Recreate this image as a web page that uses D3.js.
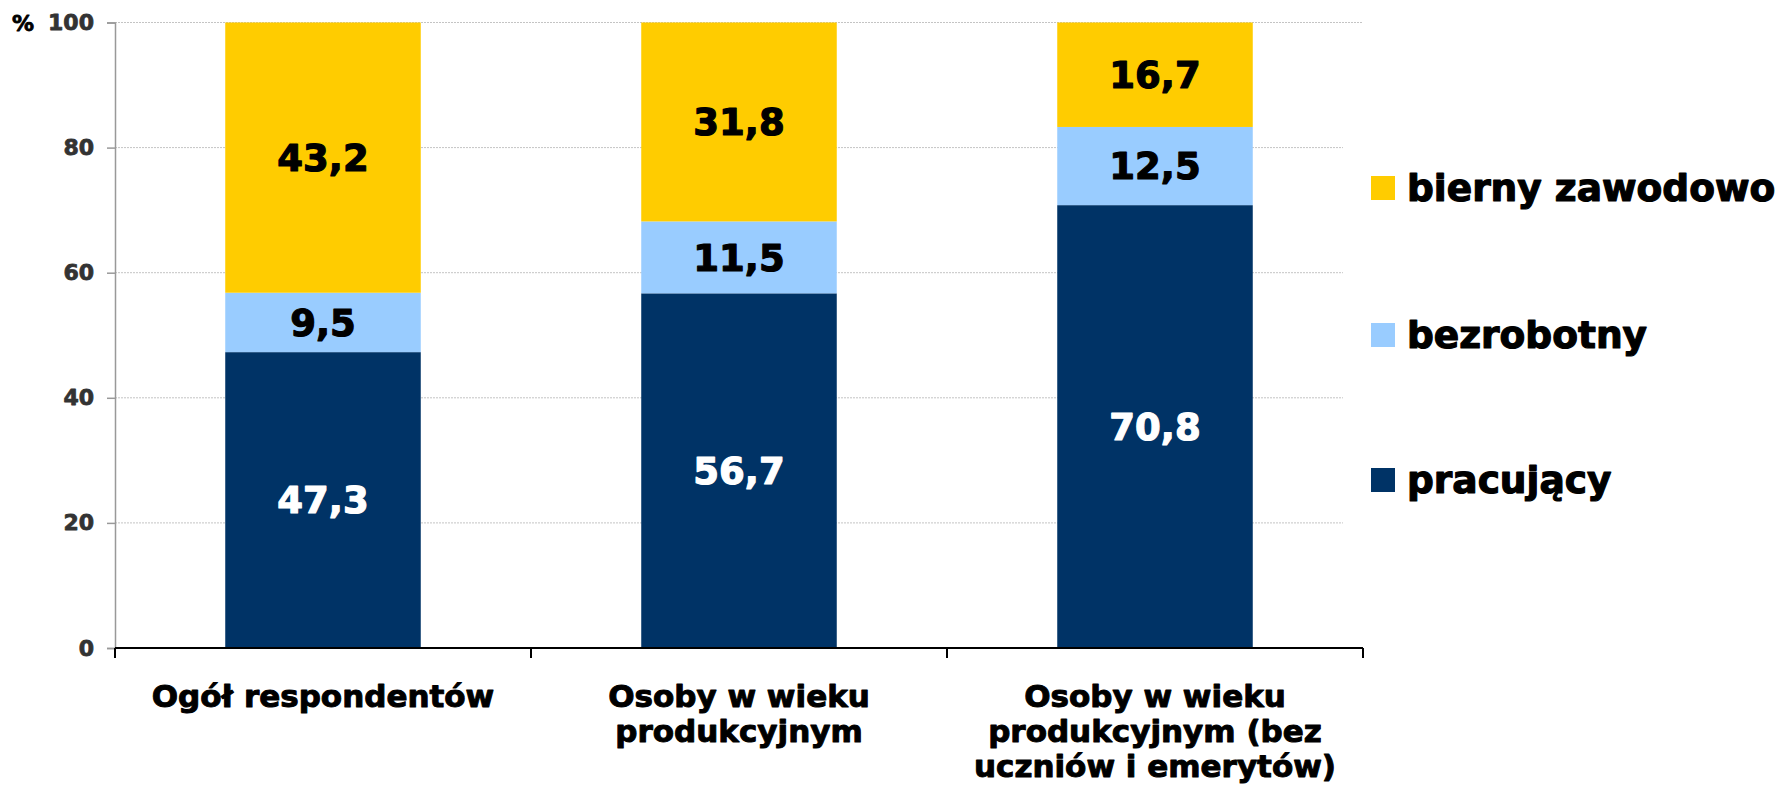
<!DOCTYPE html>
<html>
<head>
<meta charset="utf-8">
<script src="https://cdn.jsdelivr.net/npm/d3@7/dist/d3.min.js"></script>
<style>
  body { margin: 0; background: #fff; }
  svg { display: block; font-family: "DejaVu Sans", Verdana, sans-serif; font-weight: bold; }
</style>
</head>
<body>
<svg id="chart" width="1785" height="785"></svg>
<script>
/*
  Status na rynku pracy - stacked bars, 100%
*/
const categories = ['Ogół respondentów', 'Osoby w wieku produkcyjnym', 'Osoby w wieku produkcyjnym (bez uczniów i emerytów)'];
const categoryLines = [
  ['Ogół respondentów'],
  ['Osoby w wieku', 'produkcyjnym'],
  ['Osoby w wieku', 'produkcyjnym (bez', 'uczniów i emerytów)']
];
const seriesNames = ['pracujący', 'bezrobotny', 'bierny zawodowo'];
const pracujacy = [47.3, 56.7, 70.8];
const bezrobotny = [9.5, 11.5, 12.5];
const bierny = [43.2, 31.8, 16.7];
const yTicks = [0, 20, 40, 60, 80, 100];

const colors = { 'pracujący': '#003366', 'bezrobotny': '#99ccff', 'bierny zawodowo': '#ffcc00' };
const labelColors = { 'pracujący': '#fff', 'bezrobotny': '#000', 'bierny zawodowo': '#000' };

const rows = categories.map((c, i) => ({
  category: c,
  'pracujący': pracujacy[i],
  'bezrobotny': bezrobotny[i],
  'bierny zawodowo': bierny[i]
}));

const margin = { left: 115, right: 1363, top: 22.5, bottom: 648 };

const svg = d3.select('#chart');

// heavier glyphs, the original uses a blacker face than DejaVu Bold
function heavy(sel, color, w) {
  sel.attr('stroke', color).attr('stroke-width', w).attr('stroke-linejoin', 'round');
}

/**
 * Scales
 */
const scale = {};
scale.x = d3.scaleBand()
  .domain(categories)
  .range([margin.left, margin.right])
  .padding(0);

scale.y = d3.scaleLinear()
  .domain([0, 100])
  .range([margin.bottom, margin.top]);

const barWidth = scale.x.bandwidth() * 0.47;

// gridlines
svg.append('g')
  .selectAll('line')
  .data(yTicks.filter(t => t > 0))
  .join('line')
  .attr('x1', margin.left)
  .attr('x2', margin.right)
  .attr('y1', d => scale.y(d))
  .attr('y2', d => scale.y(d))
  .attr('stroke', '#c4c4c4')
  .attr('stroke-width', 1)
  .attr('stroke-dasharray', '2,1');

// legend box sits on top of the gridlines (as in the original)
svg.append('rect')
  .attr('x', 1343)
  .attr('y', 40)
  .attr('width', 442)
  .attr('height', 585)
  .attr('fill', '#fff');

/**
 * Bars
 */
const stacked = d3.stack().keys(seriesNames)(rows);

const layers = svg.append('g')
  .selectAll('g')
  .data(stacked)
  .join('g')
  .attr('fill', d => colors[d.key]);

layers.selectAll('rect')
  .data(d => d)
  .join('rect')
  .attr('x', d => scale.x(d.data.category) + (scale.x.bandwidth() - barWidth) / 2)
  .attr('width', barWidth)
  .attr('y', d => scale.y(d[1]))
  .attr('height', d => scale.y(d[0]) - scale.y(d[1]));

// value labels
const fsValue = 37;
stacked.forEach(layer => {
  svg.append('g')
    .selectAll('text')
    .data(layer)
    .join('text')
    .attr('x', d => scale.x(d.data.category) + scale.x.bandwidth() / 2)
    .attr('y', d => (scale.y(d[0]) + scale.y(d[1])) / 2 + fsValue * 0.36)
    .attr('text-anchor', 'middle')
    .attr('font-size', fsValue)
    .attr('fill', labelColors[layer.key])
    .call(heavy, labelColors[layer.key], 1.2)
    .text(d => d3.format('.1f')(d[1] - d[0]).replace('.', ','));
});

/**
 * Axes
 */
const yAxis = d3.axisLeft(scale.y)
  .tickValues(yTicks)
  .tickSize(8)
  .tickPadding(13)
  .tickFormat(d3.format('d'));

const gy = svg.append('g')
  .attr('transform', `translate(${margin.left},0)`)
  .call(yAxis);
gy.select('.domain').attr('stroke', '#999').attr('stroke-width', 1.5);
gy.selectAll('.tick line').attr('stroke', '#999').attr('stroke-width', 1.5);
gy.selectAll('.tick text')
  .attr('font-size', 22)
  .attr('font-family', '"DejaVu Sans", Verdana, sans-serif')
  .attr('font-weight', 'bold')
  .attr('fill', '#333')
  .call(heavy, '#333', 0.8);

svg.append('text')
  .attr('x', 12)
  .attr('y', scale.y(100) + 8)
  .attr('font-size', 22)
  .attr('fill', '#000')
  .call(heavy, '#000', 0.8)
  .text('%');

// x axis: boundaries between categories
const boundaries = categories.map(c => scale.x(c)).concat([margin.right]);
const gx = svg.append('g');
gx.append('line')
  .attr('x1', margin.left)
  .attr('x2', margin.right)
  .attr('y1', margin.bottom)
  .attr('y2', margin.bottom)
  .attr('stroke', '#000')
  .attr('stroke-width', 2);
gx.selectAll('.xtick')
  .data(boundaries)
  .join('line')
  .attr('class', 'xtick')
  .attr('x1', d => d)
  .attr('x2', d => d)
  .attr('y1', margin.bottom)
  .attr('y2', margin.bottom + 10)
  .attr('stroke', '#000')
  .attr('stroke-width', 2);

// category labels
const catText = svg.append('g')
  .selectAll('text')
  .data(categories)
  .join('text')
  .attr('x', d => scale.x(d) + scale.x.bandwidth() / 2)
  .attr('y', 707)
  .attr('text-anchor', 'middle')
  .attr('font-size', 31)
  .attr('fill', '#000')
  .call(heavy, '#000', 1);

catText.selectAll('tspan')
  .data((d, i) => categoryLines[i])
  .join('tspan')
  .attr('x', function() { return d3.select(this.parentNode).attr('x'); })
  .attr('dy', (d, i) => i === 0 ? 0 : 35)
  .text(d => d);

/**
 * Legend
 */
const legendY = { 'bierny zawodowo': 188, 'bezrobotny': 335, 'pracujący': 480 };
const legend = svg.append('g')
  .selectAll('g')
  .data(seriesNames)
  .join('g')
  .attr('transform', d => `translate(1371, ${legendY[d]})`);

legend.append('rect')
  .attr('x', 0)
  .attr('y', -12)
  .attr('width', 24)
  .attr('height', 24)
  .attr('fill', d => colors[d]);

legend.append('text')
  .attr('x', 36)
  .attr('y', 13)
  .attr('font-size', 37.5)
  .attr('fill', '#000')
  .call(heavy, '#000', 1.2)
  .text(d => d);
</script>
</body>
</html>
